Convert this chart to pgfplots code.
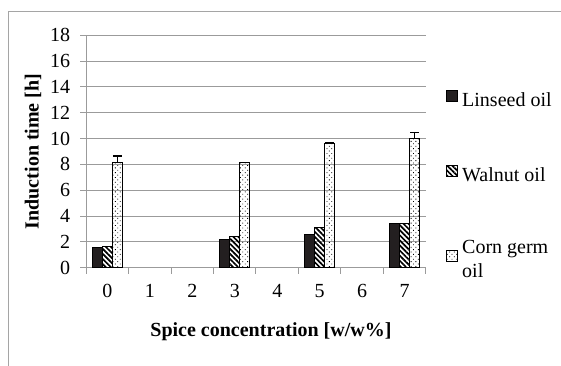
\documentclass[border=0pt]{standalone}
\usepackage{pgfplots}
\pgfplotsset{compat=1.18}
\usetikzlibrary{patterns.meta}
\usepackage{fontspec}
\setmainfont{Liberation Serif}
\definecolor{gridc}{RGB}{155,155,155}
\definecolor{framec}{RGB}{165,165,165}
\definecolor{barblk}{RGB}{35,31,32}
\pgfplotsset{
  sqlegend/.style={legend image code/.code={\draw[##1, line width=0.8pt] (0pt,-0.5pt) rectangle (11pt,10.5pt);}}
}
\begin{document}
\fontsize{20}{24}\selectfont
\begin{tikzpicture}[x=1pt,y=1pt]
\useasboundingbox (0,0) rectangle (561,365);
\draw[framec, line width=1pt] (8,-20) -- (8,353.3) -- (600,353.3);
\begin{axis}[
  at={(86pt,97.3pt)}, anchor=south west,
  scale only axis, width=340pt, height=232.5pt,
  font=\fontsize{20}{24}\selectfont,
  /pgf/number format/assume math mode=true,
  ybar=0pt, bar width=10pt,
  xmin=-0.5, xmax=7.5, ymin=0, ymax=18,
  xtick={-0.5,0.5,1.5,2.5,3.5,4.5,5.5,6.5,7.5},
  xticklabels={0,1,2,3,4,5,6,7,{}},
  xticklabel style={xshift=21.25pt, yshift=-4pt},
  ytick={0,2,...,18},
  yticklabel style={xshift=-3pt},
  ymajorgrids, grid style={gridc, line width=1pt},
  axis lines*=left,
  axis line style={gridc, line width=1pt, -},
  tick align=outside,
  major tick length=6pt,
  tick style={gridc, line width=1pt},
  xlabel={\textbf{Spice concentration [w/w\%]}},
  ylabel={\textbf{Induction time [h]}},
  xlabel style={at={(axis description cs:0.544,-0.2766)}, anchor=center},
  ylabel style={at={(axis description cs:-0.156,0.5)}, anchor=center, rotate=0},
  legend style={at={(axis description cs:1.058,0.765)}, anchor=north west,
    draw=none, fill=none, inner sep=0pt, row sep=56pt,
    nodes={inner sep=0pt, align=left},
    /tikz/every odd column/.append style={column sep=4.5pt}},
  legend cell align=left,
]
\addplot[fill=barblk, draw=black, line width=1pt, sqlegend]
  coordinates {(0,1.55) (3,2.2) (5,2.6) (7,3.42)};
\addplot[draw=black, line width=1pt, fill=white,
  pattern={Lines[angle=-45, distance=3.6pt, line width=1.7pt]}, pattern color=black, sqlegend]
  coordinates {(0,1.62) (3,2.45) (5,3.15) (7,3.45)};
\addplot[draw=black, line width=1pt, fill=white,
  pattern={Dots[angle=45, distance=3.4pt, radius=0.6pt]}, pattern color=black, sqlegend,
  error bars/.cd, y dir=plus, y explicit,
  error bar style={black, line width=1pt},
  error mark=-,
  error mark options={rotate=90, black, line width=1.2pt, mark size=4.5pt}]
  coordinates {(0,8.15) +- (0,0.5) (3,8.12) +- (0,0.03) (5,9.65) +- (0,0.04) (7,10.02) +- (0,0.47)};
\legend{Linseed oil, Walnut oil, {Corn germ\\oil}}
\end{axis}
\end{tikzpicture}
\end{document}
